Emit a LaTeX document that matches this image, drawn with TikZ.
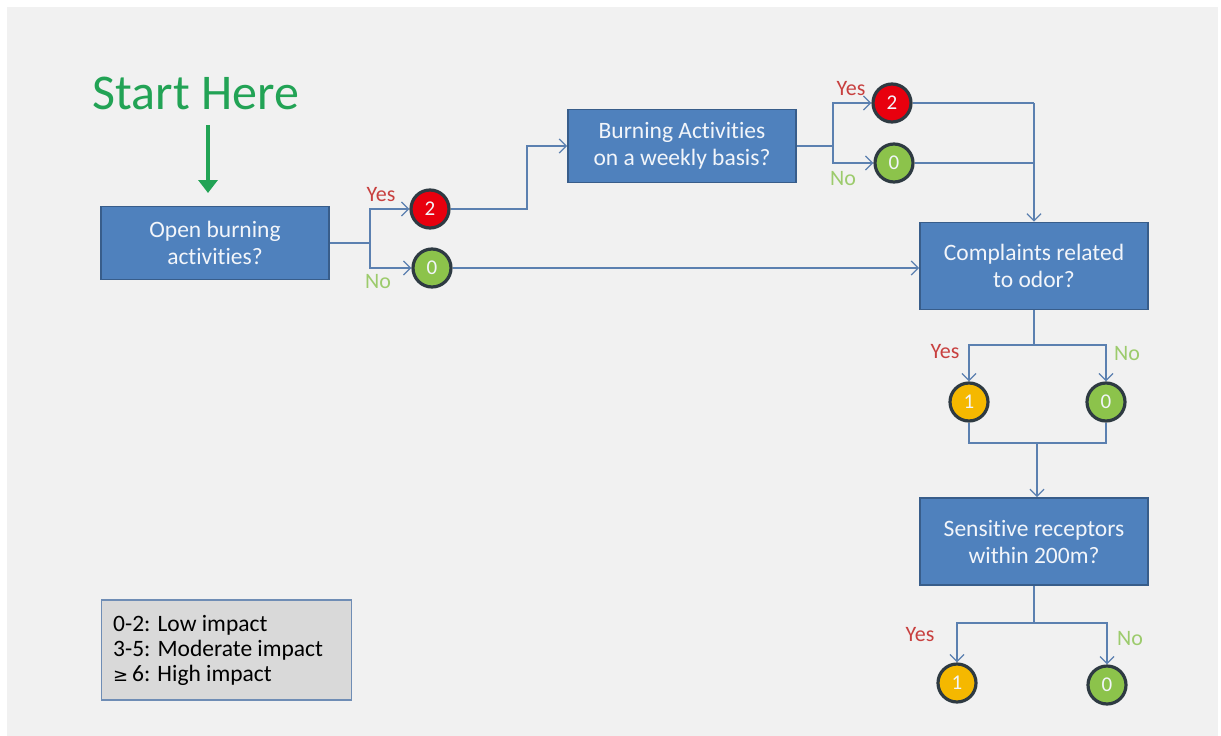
\documentclass[tikz,border=0pt]{standalone}
\usepackage{fontspec}
\setmainfont{Carlito}[Ligatures={NoCommon}]
\newfontfamily\symfont{DejaVu Sans}
\usetikzlibrary{arrows.meta}
\definecolor{panel}{HTML}{F1F1F1}
\definecolor{boxfill}{HTML}{4F81BD}
\definecolor{boxline}{HTML}{385D8A}
\definecolor{wire}{HTML}{5B80B0}
\definecolor{ringline}{HTML}{2E3A42}
\definecolor{scorered}{HTML}{E8000E}
\definecolor{scoreyellow}{HTML}{F5B800}
\definecolor{scoregreen}{HTML}{8CC34B}
\definecolor{yescol}{HTML}{C8403F}
\definecolor{nocol}{HTML}{9CCB6C}
\definecolor{startgreen}{HTML}{22A355}
\definecolor{legendfill}{HTML}{D9D9D9}
\definecolor{legendline}{HTML}{6F8DB5}
\definecolor{softwhite}{HTML}{F2F5FA}
\tikzset{
  qbox/.style={draw=boxline, line width=1.8pt, fill=boxfill, text=softwhite,
    minimum width=228pt, minimum height=73pt, align=center, inner sep=0pt,
    font=\fontsize{23.5}{27}\selectfont},
  score/.style={circle, draw=ringline, line width=3.2pt, minimum size=38pt,
    inner sep=0pt, text=softwhite, font=\fontsize{21}{21}\selectfont},
  red score/.style={score, fill=scorered},
  yellow score/.style={score, fill=scoreyellow},
  green score/.style={score, fill=scoregreen},
  wireline/.style={draw=wire, line width=1.3pt},
  flow/.style={wireline, -{Straight Barb[length=7pt,width=14pt,line width=1.3pt]}},
  yeslabel/.style={text=yescol, font=\fontsize{22}{22}\selectfont, inner sep=0pt},
  nolabel/.style={text=nocol, font=\fontsize{22}{22}\selectfont, inner sep=0pt},
}
\begin{document}
\begin{tikzpicture}[x=1pt,y=-1pt]
\useasboundingbox (0,0) rectangle (1221,736);
\fill[panel] (7,7) rectangle (1218,736);

% start marker
\node[text=startgreen, font=\fontsize{50}{50}\selectfont, inner sep=0pt] (start) at (196,93) {Start Here};
\coordinate (arrowtop) at (208,125);
\coordinate (arrowtip) at (208,193);
\draw[startgreen, line width=4pt, -{Triangle[length=13pt,width=19pt]}] (arrowtop) -- (arrowtip);

% question boxes
\node[qbox] (q1) at (215,243) {Open burning\\activities?};
\node[qbox] (q2) at (682,146) {Burning Activities\\on a weekly basis?};
\node[qbox, minimum height=87pt] (q3) at (1034,266) {Complaints related\\to odor?};
\node[qbox, minimum height=87pt] (q4) at (1034,541.5) {Sensitive receptors\\within 200m?};

% score circles
\node[red score] (s1y) at (430,209) {2};
\node[green score] (s1n) at (432,268) {0};
\node[red score] (s2y) at (892,103) {2};
\node[green score] (s2n) at (894,163) {0};
\node[yellow score] (s3y) at (969,402) {1};
\node[green score] (s3n) at (1106,402) {0};
\node[yellow score] (s4y) at (957,683) {1};
\node[green score] (s4n) at (1107,685) {0};

% branch points
\coordinate (b1) at (370,243);
\coordinate (k1) at (527,209);
\coordinate (b2) at (833,146);
\coordinate (m2) at (1034,103);
\coordinate (b3) at (1034,345);
\coordinate (b4) at (1034,623);
\coordinate (m3) at (1037,443);

% first question
\draw[wireline] (q1.east) -- (b1);
\draw[flow] (b1) |- (s1y.west);
\draw[flow] (b1) |- (s1n.west);
\draw[flow] (s1y.east) -- (k1) |- (q2.west);
\draw[flow] (s1n.east) -- (s1n.east -| q3.west);

% second question
\draw[wireline] (q2.east) -- (b2);
\draw[flow] (b2) |- (s2y.west);
\draw[flow] (b2) |- (s2n.west);
\draw[wireline] (s2y.east) -- (m2);
\draw[wireline] (s2n.east) -- (s2n.east -| m2);
\draw[flow] (m2) -- (q3.north);

% third question
\draw[wireline] (q3.south) -- (b3);
\draw[flow] (b3) -| (s3y.north);
\draw[flow] (b3) -| (s3n.north);
\draw[wireline] (s3y.south) |- (m3);
\draw[wireline] (s3n.south) |- (m3);
\draw[flow] (m3) -- (m3 |- q4.north);

% fourth question
\draw[wireline] (q4.south) -- (b4);
\draw[flow] (b4) -| (s4y.north);
\draw[flow] (b4) -| (s4n.north);

% answer labels
\node[yeslabel] (y1) at (381,195) {Yes};
\node[nolabel] (n1) at (378,282) {No};
\node[yeslabel] (y2) at (851,89) {Yes};
\node[nolabel] (n2) at (843,179) {No};
\node[yeslabel] (y3) at (945,352) {Yes};
\node[nolabel] (n3) at (1127,354) {No};
\node[yeslabel] (y4) at (920,635) {Yes};
\node[nolabel] (n4) at (1130,639) {No};

% legend
\node[draw=legendline, line width=1.6pt, fill=legendfill, minimum width=250pt,
  minimum height=100pt, inner sep=0pt] (legend) at (226.5,650) {};
\node[anchor=west, align=left, inner sep=0pt, font=\fontsize{23.5}{25}\selectfont]
  (legendtext) at (113,650)
  {0-2: Low impact\\3-5: Moderate impact\\{\symfont\fontsize{18}{25}\selectfont ≥}\,6: High impact};
\end{tikzpicture}
\end{document}
